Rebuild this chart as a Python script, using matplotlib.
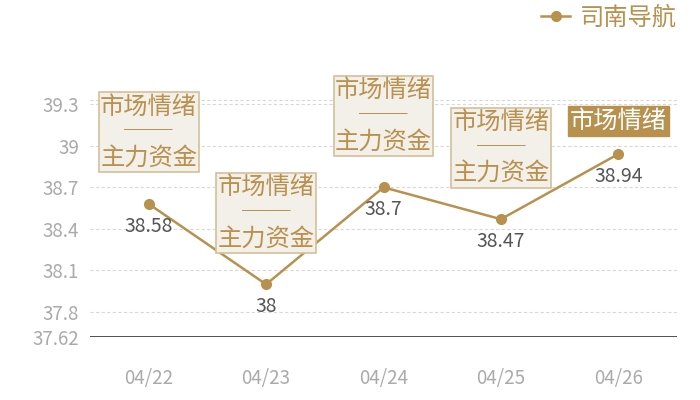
import matplotlib
matplotlib.use("Agg")
import matplotlib.pyplot as plt

plt.rcParams['font.family'] = ['Noto Sans CJK SC', 'DejaVu Sans']

dates = ["04/22", "04/23", "04/24", "04/25", "04/26"]
values = [38.58, 38.0, 38.7, 38.47, 38.94]
value_labels = ["38.58", "38", "38.7", "38.47", "38.94"]
y_ticks = [37.62, 37.8, 38.1, 38.4, 38.7, 39.0, 39.3]
y_tick_labels = ["37.62", "37.8", "38.1", "38.4", "38.7", "39", "39.3"]
y_min, y_max = 37.62, 39.33
series_name = "司南导航"
ann_full = "市场情绪\n──\n主力资金"
ann_short = "市场情绪"

GOLD = "#b8914f"
BOX_FILL = "#f3efe9"
BOX_EDGE = "#d6bf98"

fig = plt.figure(figsize=(7, 4), dpi=100)
ax = fig.add_axes([90/700, 1 - 337/400, (677-90)/700, (337-100)/400])

x = list(range(len(dates)))
ax.set_xlim(-0.5, len(dates) - 0.5)
ax.set_ylim(y_min, y_max)

for t in y_ticks[1:] + [y_max]:
    ax.axhline(t, color="#d9d9d9", lw=0.8, ls=(0, (3, 2)), zorder=0)
ax.axhline(y_min, color="#333333", lw=1.2, zorder=1)

line, = ax.plot(x, values, color=GOLD, lw=1.8, marker="o", ms=7,
                mfc=GOLD, mec=GOLD, zorder=3, label=series_name)

for xi, v, lab in zip(x, values, value_labels):
    ax.annotate(lab, (xi, v), xytext=(0, -12), textcoords="offset pixels",
                ha="center", va="top", fontsize=14, color="#555555",
                fontweight="light", zorder=4)

for i, (xi, v) in enumerate(zip(x, values)):
    if i == len(x) - 1:
        ax.annotate(ann_short, (xi, v), xytext=(0, 20), textcoords="offset pixels",
                    ha="center", va="bottom", fontsize=17.5, color="white",
                    fontweight="light",
                    bbox=dict(boxstyle="square,pad=0.08", fc=GOLD, ec=GOLD, lw=1),
                    zorder=5)
    else:
        ax.annotate(ann_full, (xi, v), xytext=(0, 33), textcoords="offset pixels",
                    ha="center", va="bottom", fontsize=17.5, color=GOLD,
                    fontweight="light", linespacing=0.98, multialignment="center",
                    bbox=dict(boxstyle="square,pad=0.06", fc=BOX_FILL, ec=BOX_EDGE, lw=1.2),
                    zorder=5)

ax.set_yticks(y_ticks)
ax.set_yticklabels(y_tick_labels)
ax.set_xticks(x)
ax.set_xticklabels(dates)
ax.tick_params(axis="y", length=0, pad=8, labelsize=13.5, labelcolor="#aaaaaa")
ax.tick_params(axis="x", length=0, pad=22, labelsize=13.5, labelcolor="#aaaaaa")
for lab in ax.get_xticklabels() + ax.get_yticklabels():
    lab.set_fontweight("light")
for s in ax.spines.values():
    s.set_visible(False)

leg = ax.legend(handles=[line], loc="upper right", bbox_to_anchor=(689/700, 1.02),
                bbox_transform=fig.transFigure, frameon=False,
                handlelength=1.2, handletextpad=0.4, borderaxespad=0.1,
                prop=dict(weight="light", size=17.5))
for t in leg.get_texts():
    t.set_color(GOLD)

fig.savefig("out.png", dpi=100)
